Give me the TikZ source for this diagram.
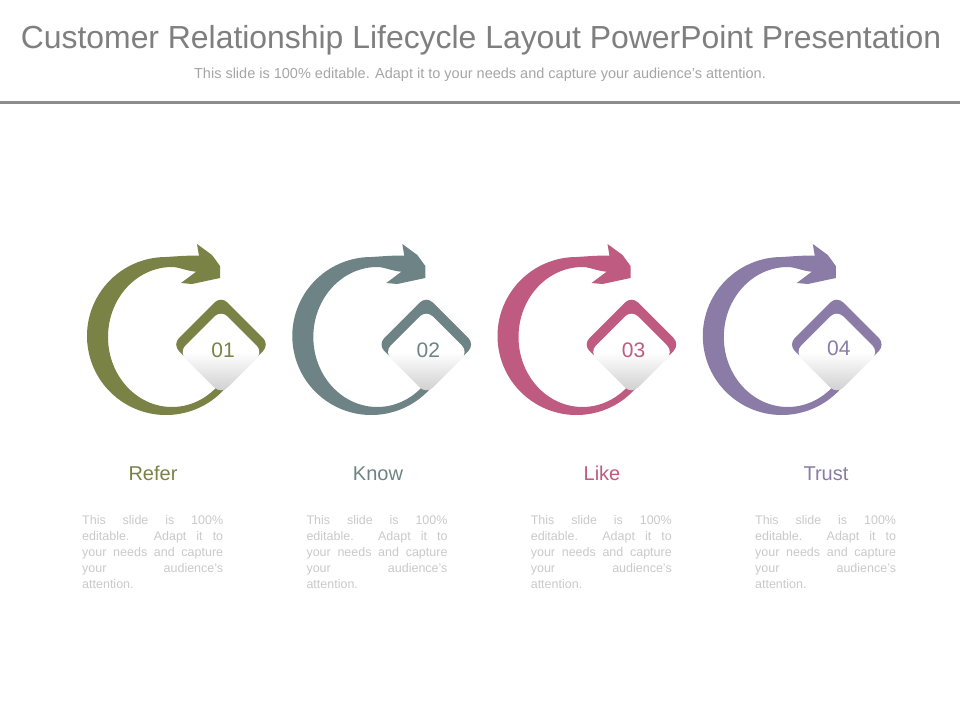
\documentclass[tikz,border=0pt]{standalone}
\usepackage{fontspec}
\setmainfont{Liberation Sans}
\definecolor{cA}{RGB}{122,130,70}
\definecolor{cB}{RGB}{110,131,133}
\definecolor{cC}{RGB}{191,90,128}
\definecolor{cD}{RGB}{138,124,166}
\definecolor{titlegray}{RGB}{127,127,127}
\definecolor{subgray}{RGB}{166,166,166}
\definecolor{bodygray}{RGB}{202,202,202}
\definecolor{rulegray}{RGB}{140,140,140}
\newcommand\myicon[5]{%
  \begin{scope}[shift={(#1,0)}]
    \begin{scope}[shift={(166,336)}]
      \fill[#2] (35:79) arc[start angle=35,end angle=270,radius=79]
        .. controls (16,-80) and (26,-81) .. (37,-80) -- (35,-64)
        .. controls (22,-64) and (14,-69) .. (6,-69)
        arc[start angle=270,end angle=35,x radius=64,y radius=70] -- cycle;
      \fill[#2] (31,-92) -- (46,-81) -- (54,-70) -- (54,-58) -- (26,-52) -- (15,-53)
        -- (31,-65) -- (33,-80) -- cycle;
    \end{scope}
    \fill[#2,rounded corners=9pt] (221,296) -- (269.5,344.5) -- (221,393) -- (172.5,344.5) -- cycle;
    \shade[top color=white,bottom color=black!20,middle color=white,rounded corners=9pt]
      (221,310) -- (263,352) -- (221,394) -- (179,352) -- cycle;
    \node[numtext,text=#2] (num#4) at (223,#5) {#3};
  \end{scope}}
\newcommand\mybody[2]{%
  \node[bodytext] (#2a) at (#1,524) {\makebox[141pt][s]{This slide is 100\%}};
  \node[bodytext] (#2b) at (#1,540) {\makebox[141pt][s]{editable. Adapt it to}};
  \node[bodytext] (#2c) at (#1,556) {\makebox[141pt][s]{your needs and capture}};
  \node[bodytext] (#2d) at (#1,572) {\makebox[141pt][s]{your audience’s}};
  \node[bodytext] (#2e) at (#1,588) {attention.};}
\begin{document}
\begin{tikzpicture}[x=1pt,y=-1pt,
  numtext/.style={font=\fontsize{21}{24}\selectfont,inner sep=0pt,anchor=base},
  labeltext/.style={font=\fontsize{20}{24}\selectfont,inner sep=0pt,anchor=base},
  bodytext/.style={font=\fontsize{12.5}{16}\selectfont,text=bodygray,inner sep=0pt,anchor=base west}]
\useasboundingbox (0,0) rectangle (960,720);
\fill[white] (0,0) rectangle (960,720);
\node[font=\fontsize{31.9}{36}\selectfont,text=titlegray,inner sep=0pt,anchor=base] (title) at (481,48)
  {Customer Relationship Lifecycle Layout PowerPoint Presentation};
\node[font=\fontsize{14.5}{16}\selectfont,text=subgray,inner sep=0pt,anchor=base] (subtitle) at (480,78)
  {This slide is 100\% editable. Adapt it to your needs and capture your audience’s attention.};
\draw[rulegray,line width=3pt] (0,102) -- (960,102);
\myicon{0}{cA}{01}{A}{357}
\myicon{205.3}{cB}{02}{B}{357}
\myicon{410.5}{cC}{03}{C}{357}
\myicon{615.8}{cD}{04}{D}{355}
\node[labeltext,text=cA] (lblA) at (153,480) {Refer};
\node[labeltext,text=cB] (lblB) at (378,480) {Know};
\node[labeltext,text=cC] (lblC) at (602,480) {Like};
\node[labeltext,text=cD] (lblD) at (826,480) {Trust};
\mybody{82}{bA}
\mybody{306.3}{bB}
\mybody{530.6}{bC}
\mybody{754.9}{bD}
\end{tikzpicture}
\end{document}
